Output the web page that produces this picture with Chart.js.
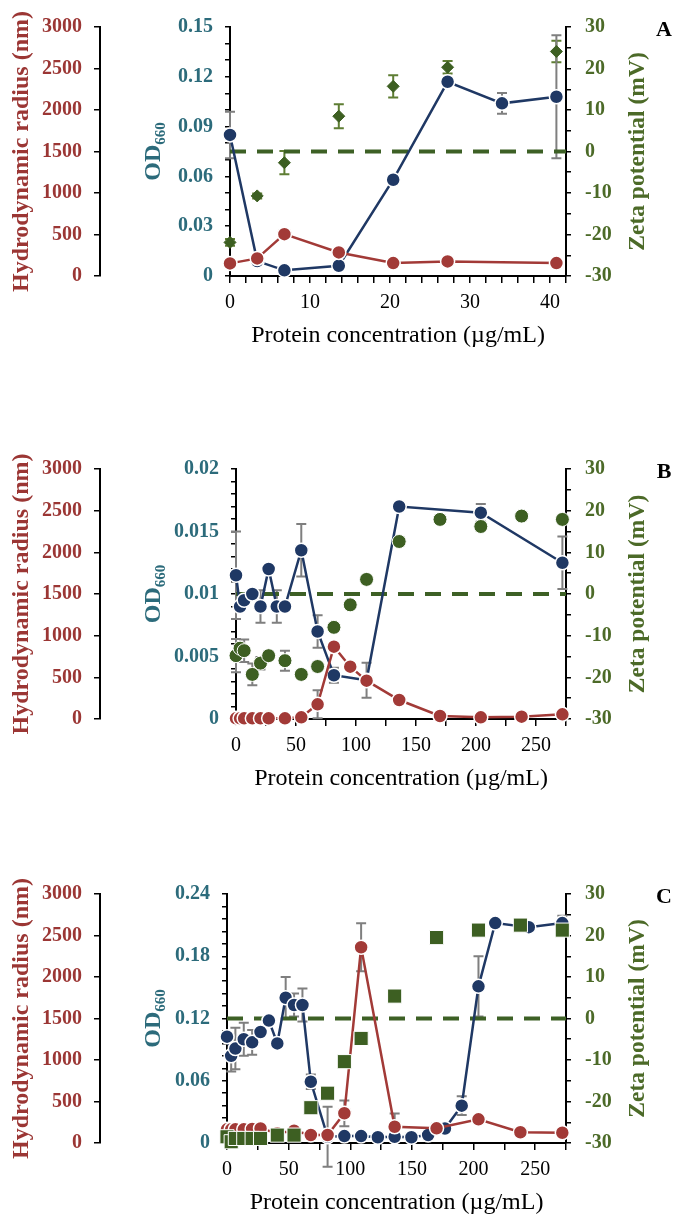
<!DOCTYPE html>
<html>
<head>
<meta charset="utf-8">
<script src="https://cdn.jsdelivr.net/npm/chart.js@4.4.1/dist/chart.umd.min.js"></script>
<style>
  html, body { margin: 0; padding: 0; background: #fff; overflow: hidden; }
  .panel { position: absolute; left: 0; width: 674px; }
</style>
</head>
<body>
<div class="panel" style="top:0px"><canvas id="chartA" width="674" height="356"></canvas></div>
<div class="panel" style="top:442px"><canvas id="chartB" width="674" height="357"></canvas></div>
<div class="panel" style="top:867px"><canvas id="chartC" width="674" height="356"></canvas></div>
<script>
// ---- Panel A ----
const concA = [0, 3.4, 6.8, 13.6, 20.4, 27.2, 34, 40.8];
const radiusA = [152, 212, 504, 284, 156, 176, null, 156];
const radiusErrA = [0, 0, 25, 0, 0, 0, 0, 0];
const odA = [0.085, 0.009, 0.0034, 0.0062, 0.058, 0.117, 0.104, 0.108];
const odErrA = [0.014, 0, 0, 0, 0, 0, 0.0063, 0.037];
const zetaA = [-21.9, -10.7, -2.7, 8.5, 15.7, 20.3, null, 24.1];
const zetaErrA = [0.8, 0.6, 2.8, 2.9, 2.7, 1.5, 0, 2.6];
const zeroSpanA = [0, 42];

// ---- Panel B ----
const concB = [0, 3.4, 6.8, 13.6, 20.4, 27.2, 34, 40.8, 54.4, 68, 81.6, 95.2, 108.8, 136, 170, 204, 238, 272];
const radiusB = [8, 8, 8, 8, 8, 8, null, 8, 20, 176, 868, 628, 460, 228, 36, 20, 28, 56];
const radiusErrB = [0, 0, 0, 0, 0, 0, 0, 0, 0, 168, 0, 0, 0, 0, 0, 0, 0, 0];
const odB = [0.0115, 0.0090, 0.0095, 0.0100, 0.0090, 0.0120, 0.0090, 0.0090, 0.0135, 0.0070, 0.0035, null, 0.0031, 0.0170, null, 0.0165, null, 0.0125];
const odErrB = [0.0035, 0, 0, 0, 0.0013, 0, 0.0013, 0, 0.0021, 0.0013, 0.0006, 0, 0.0014, 0, 0, 0.0007, 0, 0.0021];
const zetaB = [-14.8, -13.0, -13.6, -19.3, -16.6, -14.8, null, -16.0, -19.3, -17.4, -8.0, -2.6, 3.5, 12.6, 17.9, 16.2, 18.7, 17.9];
const zetaErrB = [4, 1, 2.7, 2.6, 1.5, 1, 0, 2.4, 0, 0, 0, 0, 0, 0, 0, 0, 0, 0];
const zeroSpanB = [0, 275];

// ---- Panel C ----
const concOdC = [0, 3.4, 6.8, 13.6, 20.4, 27.2, 34, 40.8, 47.6, 54.4, 61.2, 68, 81.6, 95.2, 108.8, 122.4, 136, 149.6, 163.2, 176.8, 190.4, 204, 217.6, 244.8, 272];
const odC = [0.1025, 0.084, 0.091, 0.100, 0.097, 0.107, 0.118, 0.096, 0.140, 0.133, 0.133, 0.059, 0.006, 0.0067, 0.0067, 0.0055, 0.006, 0.0055, 0.0077, 0.014, 0.036, 0.151, 0.212, 0.208, 0.212];
const odErrC = [0, 0.015, 0.02, 0.016, 0.012, 0, 0, 0, 0.02, 0.011, 0.016, 0.007, 0.029, 0, 0, 0, 0, 0, 0.004, 0.004, 0.009, 0.029, 0, 0.003, 0.007];
const concC = [0, 3.4, 6.8, 13.6, 20.4, 27.2, 40.8, 54.4, 68, 81.6, 95.2, 108.8, 136, 170, 204, 238, 272];
const radiusC = [165, 165, 165, 165, 170, 175, 117, 148, 96, 96, 358, 2358, 196, 177, 285, 129, 124];
const radiusErrC = [0, 0, 0, 0, 0, 0, 0, 0, 0, 0, 155, 290, 160, 60, 0, 0, 0];
const zetaC = [-28.5, -29.7, -28.9, -28.9, -28.9, -28.9, -28.1, -28.1, -21.5, -18.0, -10.4, -4.8, 5.4, 19.5, 21.3, 22.5, 21.3];
const zeroSpanC = [0, 275];

const SERIF = "'Liberation Serif', 'Times New Roman', serif";
const RED = '#a23a37';
const NAVY = '#1f3864';
const GREEN = '#3d5f22';
const RED_TEXT = '#9b3634';
const TEAL_TEXT = '#2c6b7b';
const GREEN_TEXT = '#4c6a28';

const pts = (xs, ys) => xs.map((x, i) => ({ x: x, y: ys[i] }));
const isMultiple = (v, step) => Math.abs(v / step - Math.round(v / step)) < 1e-6;

// vertical error bars with caps, drawn under the markers
const errorBars = {
  id: 'errorBars',
  beforeDatasetsDraw(chart) {
    const ctx = chart.ctx;
    chart.data.datasets.forEach((ds, i) => {
      if (!ds.errors) return;
      const meta = chart.getDatasetMeta(i);
      const xs = chart.scales[meta.xAxisID];
      const ys = chart.scales[meta.yAxisID];
      ctx.save();
      ctx.strokeStyle = ds.errorColor || '#7f7f7f';
      ctx.lineWidth = 2;
      ds.data.forEach((p, j) => {
        const e = ds.errors[j];
        if (p.y == null || !e) return;
        const x = xs.getPixelForValue(p.x);
        const top = ys.getPixelForValue(p.y + e);
        const bot = ys.getPixelForValue(p.y - e);
        ctx.beginPath();
        ctx.moveTo(x, top); ctx.lineTo(x, bot);
        ctx.moveTo(x - 5, top); ctx.lineTo(x + 5, top);
        ctx.moveTo(x - 5, bot); ctx.lineTo(x + 5, bot);
        ctx.stroke();
      });
      ctx.restore();
    });
  }
};

// OD660 and zeta titles (rotated, subscript) plus the panel letter
const sideText = {
  id: 'sideText',
  afterDraw(chart, args, opts) {
    const ctx = chart.ctx;
    const area = chart.chartArea;
    const cy = (area.top + area.bottom) / 2;

    ctx.save();
    ctx.translate(152, cy);
    ctx.rotate(-Math.PI / 2);
    ctx.fillStyle = TEAL_TEXT;
    ctx.textBaseline = 'alphabetic';
    ctx.font = 'bold 24px ' + SERIF;
    const w1 = ctx.measureText('OD').width;
    ctx.font = 'bold 15px ' + SERIF;
    const w2 = ctx.measureText('660').width;
    const x0 = -(w1 + w2) / 2;
    ctx.font = 'bold 24px ' + SERIF;
    ctx.fillText('OD', x0, 8);
    ctx.font = 'bold 15px ' + SERIF;
    ctx.fillText('660', x0 + w1, 13);
    ctx.restore();

    ctx.save();
    ctx.translate(638, cy);
    ctx.rotate(-Math.PI / 2);
    ctx.fillStyle = GREEN_TEXT;
    ctx.font = 'bold 23.5px ' + SERIF;
    ctx.textAlign = 'center';
    ctx.textBaseline = 'middle';
    ctx.fillText('Zeta potential (mV)', 0, 0);
    ctx.restore();

    ctx.save();
    ctx.font = 'bold 22px ' + SERIF;
    ctx.fillStyle = '#000';
    ctx.textAlign = 'center';
    ctx.textBaseline = 'middle';
    ctx.fillText(opts.letter, 664, area.top + 3);
    ctx.restore();
  }
};

function axisLines(tickLength) {
  return {
    grid: { drawOnChartArea: false, color: '#000', lineWidth: 1.5, tickLength: tickLength },
    border: { display: true, color: '#000', width: 2 }
  };
}

function makePanel(id, p) {
  const zetaSet = {
    label: 'Zeta potential',
    data: pts(p.zetaX, p.zeta),
    yAxisID: 'yZ',
    showLine: false,
    pointStyle: p.zetaStyle,
    pointRadius: p.zetaRadius,
    pointBackgroundColor: GREEN,
    pointBorderColor: p.zetaBorder,
    pointBorderWidth: 1,
    backgroundColor: GREEN,
    borderColor: GREEN,
    errors: p.zetaErr,
    errorColor: p.zetaErrColor,
    clip: false,
    order: 0
  };
  const radiusSet = {
    label: 'Hydrodynamic radius',
    data: pts(p.radiusX, p.radius),
    yAxisID: 'yR',
    borderColor: RED,
    backgroundColor: RED,
    pointBackgroundColor: RED,
    pointBorderColor: '#fff',
    pointBorderWidth: 1.5,
    pointRadius: 7,
    borderWidth: 2.5,
    spanGaps: true,
    errors: p.radiusErr,
    clip: false,
    order: 1
  };
  const odSet = {
    label: 'OD660',
    data: pts(p.odX, p.od),
    yAxisID: 'yOD',
    borderColor: NAVY,
    backgroundColor: NAVY,
    pointBackgroundColor: NAVY,
    pointBorderColor: '#fff',
    pointBorderWidth: 1.5,
    pointRadius: 7,
    borderWidth: 2.5,
    spanGaps: true,
    errors: p.odErr,
    clip: false,
    order: 2
  };
  const zeroSet = {
    label: 'zero',
    data: pts(p.zeroSpan, [0, 0]),
    yAxisID: 'yZ',
    borderColor: '#3d6025',
    borderWidth: 4,
    borderDash: [16, 11],
    pointRadius: 0,
    clip: false,
    order: 3
  };

  return new Chart(document.getElementById(id).getContext('2d'), {
    type: 'line',
    data: { datasets: [zetaSet, radiusSet, odSet, zeroSet] },
    options: {
      responsive: false,
      animation: false,
      events: [],
      layout: { padding: { top: 27, right: 18, left: 0, bottom: 0 } },
      plugins: {
        legend: { display: false },
        tooltip: { enabled: false },
        sideText: { letter: p.letter }
      },
      scales: {
        x: Object.assign({
          type: 'linear',
          min: 0,
          max: p.xMax,
          ticks: {
            stepSize: p.xStep,
            autoSkip: false,
            maxRotation: 0,
            minRotation: 0,
            padding: 8,
            color: '#000',
            font: { family: SERIF, size: 20 },
            callback: (v) => isMultiple(v, p.xLabelStep) ? String(v) : ''
          },
          title: {
            display: true,
            text: 'Protein concentration (\u00b5g/mL)',
            color: '#000',
            font: { family: SERIF, size: 24 },
            padding: { top: 0, bottom: 6 }
          },
          afterFit: (s) => { s.height = 80; }
        }, axisLines(7)),
        yR: Object.assign({
          type: 'linear',
          position: 'left',
          weight: 1,
          min: 0,
          max: 3000,
          ticks: {
            stepSize: 500,
            autoSkip: false,
            padding: 12,
            color: RED_TEXT,
            font: { family: SERIF, size: 20, weight: 'bold' },
            callback: (v) => String(v)
          },
          title: {
            display: true,
            text: 'Hydrodynamic radius (nm)',
            color: RED_TEXT,
            font: { family: SERIF, size: 24, weight: 'bold' },
            padding: { top: 7, bottom: 0 }
          },
          afterFit: (s) => { s.width = 100; }
        }, axisLines(6)),
        yOD: Object.assign({
          type: 'linear',
          position: 'left',
          weight: 0,
          min: 0,
          max: p.odMax,
          ticks: {
            stepSize: p.odStep,
            autoSkip: false,
            padding: 12,
            color: TEAL_TEXT,
            font: { family: SERIF, size: 20, weight: 'bold' },
            callback: (v) => isMultiple(v, p.odLabelStep) ? String(parseFloat(v.toFixed(4))) : ''
          },
          afterFit: (s) => { s.width = p.odWidth; }
        }, axisLines(5)),
        yZ: Object.assign({
          type: 'linear',
          position: 'right',
          min: -30,
          max: 30,
          ticks: {
            stepSize: 5,
            autoSkip: false,
            padding: 14,
            color: GREEN_TEXT,
            font: { family: SERIF, size: 20, weight: 'bold' },
            callback: (v) => isMultiple(v, 10) ? String(v) : ''
          },
          afterFit: (s) => { s.width = 90; }
        }, axisLines(5))
      }
    },
    plugins: [errorBars, sideText]
  });
}

makePanel('chartA', {
  letter: 'A', xMax: 42, xStep: 2, xLabelStep: 10,
  odMax: 0.15, odStep: 0.01, odLabelStep: 0.03, odWidth: 130,
  odX: concA, od: odA, odErr: odErrA,
  radiusX: concA, radius: radiusA, radiusErr: radiusErrA,
  zetaX: concA, zeta: zetaA, zetaErr: zetaErrA, zetaErrColor: '#5e7d33',
  zetaStyle: 'rectRot', zetaRadius: 6, zetaBorder: GREEN,
  zeroSpan: zeroSpanA
});

makePanel('chartB', {
  letter: 'B', xMax: 275, xStep: 25, xLabelStep: 50,
  odMax: 0.02, odStep: 0.001, odLabelStep: 0.005, odWidth: 136,
  odX: concB, od: odB, odErr: odErrB,
  radiusX: concB, radius: radiusB, radiusErr: radiusErrB,
  zetaX: concB, zeta: zetaB, zetaErr: zetaErrB, zetaErrColor: '#7f7f7f',
  zetaStyle: 'circle', zetaRadius: 7, zetaBorder: '#fff',
  zeroSpan: zeroSpanB
});

makePanel('chartC', {
  letter: 'C', xMax: 275, xStep: 25, xLabelStep: 50,
  odMax: 0.24, odStep: 0.012, odLabelStep: 0.06, odWidth: 127,
  odX: concOdC, od: odC, odErr: odErrC,
  radiusX: concC, radius: radiusC, radiusErr: radiusErrC,
  zetaX: concC, zeta: zetaC, zetaErr: null, zetaErrColor: '#7f7f7f',
  zetaStyle: 'rect', zetaRadius: 10, zetaBorder: '#fff',
  zeroSpan: zeroSpanC
});
</script>
</body>
</html>
